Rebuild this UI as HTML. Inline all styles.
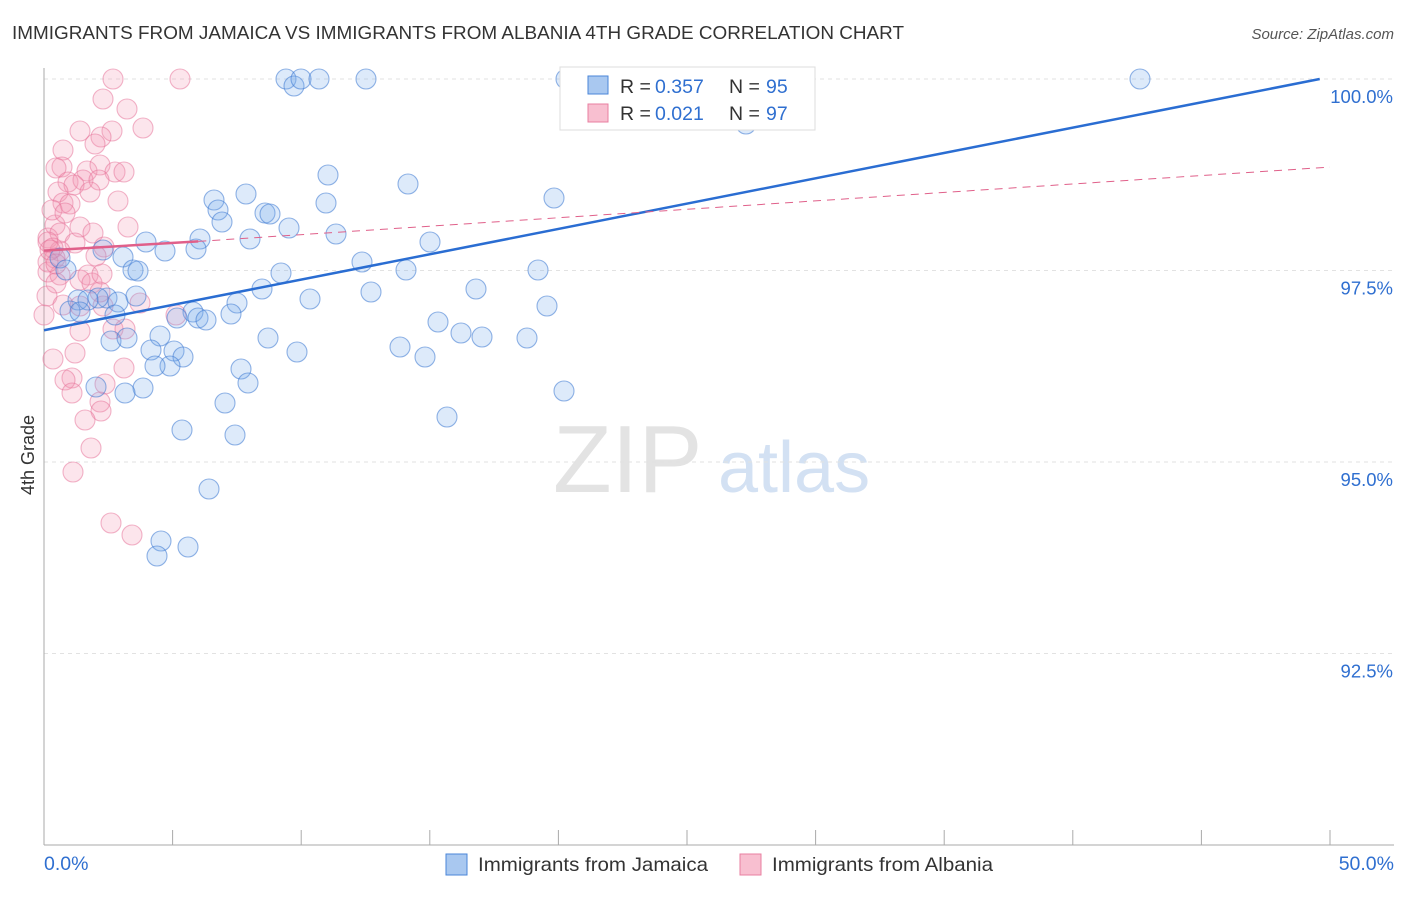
<!DOCTYPE html>
<html><head><meta charset="utf-8"><style>
body{margin:0;background:#fff;font-family:"Liberation Sans",sans-serif}
svg text{font-family:"Liberation Sans",sans-serif}
</style></head><body>
<svg id="c" width="1406" height="892">
<text x="12" y="39" font-size="18" fill="#333" textLength="892" lengthAdjust="spacingAndGlyphs">IMMIGRANTS FROM JAMAICA VS IMMIGRANTS FROM ALBANIA 4TH GRADE CORRELATION CHART</text>
<text x="1394" y="39" font-size="15" fill="#555" font-style="italic" text-anchor="end">Source: ZipAtlas.com</text>
<text x="34" y="455" font-size="18" fill="#333" text-anchor="middle" transform="rotate(-90 34 455)">4th Grade</text>
<text x="553" y="492" font-size="96" fill="#e3e3e3" font-family="Liberation Serif">ZIP</text>
<text x="718" y="492" font-size="72" fill="#d3e1f3">atlas</text>
<g id="grid"></g><g id="pts"></g><g id="lines"></g>
<g>
<rect x="560" y="67" width="255" height="63" fill="#fff" stroke="#ddd"/>
<rect x="588" y="76" width="20" height="18" fill="#a9c8f0" stroke="#4a86d8"/>
<text y="93" font-size="19.5" fill="#333"><tspan x="620">R =</tspan><tspan x="655" fill="#2f6fd0">0.357</tspan><tspan x="729">N =</tspan><tspan x="766" fill="#2f6fd0">95</tspan></text>
<rect x="588" y="104" width="20" height="18" fill="#f8bfd0" stroke="#e87fa0"/>
<text y="120" font-size="19.5" fill="#333"><tspan x="620">R =</tspan><tspan x="655" fill="#2f6fd0">0.021</tspan><tspan x="729">N =</tspan><tspan x="766" fill="#2f6fd0">97</tspan></text>
</g>
<g>
<rect x="446" y="854" width="21" height="21" fill="#a9c8f0" stroke="#4a86d8"/>
<text x="478" y="871" font-size="19.5" fill="#333" textLength="230" lengthAdjust="spacingAndGlyphs">Immigrants from Jamaica</text>
<rect x="740" y="854" width="21" height="21" fill="#f8bfd0" stroke="#e87fa0"/>
<text x="772" y="871" font-size="19.5" fill="#333" textLength="221" lengthAdjust="spacingAndGlyphs">Immigrants from Albania</text>
</g>
<text x="44" y="870" font-size="19.5" fill="#2f6fd0">0.0%</text>
<text x="1394" y="870" font-size="19.5" fill="#2f6fd0" text-anchor="end">50.0%</text>
</svg>
<script>
const yTicks=[100,97.5,95,92.5];
const yTickLabels=["100.0%","97.5%","95.0%","92.5%"];
const xTicks=[0,5,10,15,20,25,30,35,40,45,50];
const bluePx=[[286,79],[294,86],[301,79],[319,79],[366,79],[566,79],[707,79],[1140,79],[746,124],[328,175],[408,184],[246,194],[214,200],[218,210],[222,222],[265,213],[270,214],[289,228],[326,203],[336,234],[554,198],[250,239],[146,242],[165,251],[200,239],[196,249],[103,250],[123,257],[60,258],[66,270],[133,270],[138,271],[281,273],[362,262],[430,242],[406,270],[538,270],[476,289],[371,292],[310,299],[262,289],[237,303],[231,314],[107,298],[118,302],[78,300],[98,298],[88,300],[136,296],[70,311],[80,312],[115,315],[193,312],[198,318],[206,320],[177,318],[547,306],[438,322],[461,333],[482,337],[527,338],[268,338],[160,336],[111,341],[127,338],[400,347],[425,357],[297,352],[151,350],[174,351],[183,357],[170,366],[155,366],[241,369],[248,383],[143,388],[96,387],[125,393],[564,391],[225,403],[447,417],[182,430],[235,435],[209,489],[161,541],[188,547],[157,556]];
const pinkPx=[[113,79],[180,79],[103,99],[127,109],[143,128],[112,131],[80,131],[101,137],[95,144],[63,150],[62,167],[87,171],[100,165],[115,172],[124,172],[56,168],[68,182],[83,180],[99,180],[74,185],[90,192],[58,192],[118,201],[63,203],[70,204],[55,225],[48,238],[60,233],[80,227],[52,210],[65,213],[93,233],[128,227],[104,247],[96,256],[75,243],[60,251],[48,242],[53,248],[55,258],[48,272],[60,275],[88,275],[80,280],[92,283],[102,274],[56,283],[47,296],[63,305],[103,306],[80,306],[140,303],[176,315],[113,329],[125,329],[80,331],[53,359],[75,353],[124,368],[105,384],[72,378],[65,380],[72,393],[100,402],[101,411],[85,420],[91,448],[73,472],[111,523],[132,535],[100,292],[48,262],[50,250],[56,264],[44,315]];
const X0=44,X1=1330,Y100=79,PX_PER=191.5/2.5;
const xs=v=>X0+v/50*(X1-X0), ys=v=>Y100+(100-v)*PX_PER;
const toData=p=>[(p[0]-X0)/(X1-X0)*50,100-(p[1]-Y100)/PX_PER];
const jamaicaX=bluePx.map(p=>toData(p)[0]),jamaicaY=bluePx.map(p=>toData(p)[1]);
const albaniaX=pinkPx.map(p=>toData(p)[0]),albaniaY=pinkPx.map(p=>toData(p)[1]);
const blueTrend=[[0,96.72],[49.6,100]];
const pinkTrend=[[0,97.76],[6,97.88],[50,98.85]];
const NS="http://www.w3.org/2000/svg";
function mk(t,a,parent){const e=document.createElementNS(NS,t);for(const k in a)e.setAttribute(k,a[k]);parent.appendChild(e);return e;}
const g=document.getElementById('grid');
yTicks.forEach((v,i)=>{
 const l=mk('line',{x1:44,x2:1394,y1:ys(v),y2:ys(v),stroke:'#e2e2e2','stroke-dasharray':'4,4'},g);
 
 
 const t=mk('text',{x:1393,y:ys(v)+24,'font-size':18.5,fill:'#2f6fd0','text-anchor':'end'},g);
 t.textContent=yTickLabels[i];
 
 
});
const ax=mk('line',{x1:44,x2:44,y1:68,y2:845,stroke:'#aaa'},g);


const bx=mk('line',{x1:44,x2:1394,y1:845,y2:845,stroke:'#aaa'},g);


xTicks.forEach(v=>{const t=mk('line',{x1:xs(v),x2:xs(v),y1:830,y2:845,stroke:'#aaa'},g);
 
 });
const P=document.getElementById('pts');
albaniaX.forEach((x,i)=>{const c=mk('circle',{cx:xs(x),cy:ys(albaniaY[i]),r:10,fill:'rgba(245,150,180,0.25)',stroke:'rgba(230,110,150,0.5)','stroke-width':1.1},P);
 
 });
jamaicaX.forEach((x,i)=>{const c=mk('circle',{cx:xs(x),cy:ys(jamaicaY[i]),r:10,fill:'rgba(120,170,235,0.25)',stroke:'rgba(60,120,210,0.55)','stroke-width':1.1},P);
 
 });
const L=document.getElementById('lines');
const bl=mk('line',{x1:xs(blueTrend[0][0]),y1:ys(blueTrend[0][1]),x2:xs(blueTrend[1][0]),y2:ys(blueTrend[1][1]),stroke:'#2a6dd2','stroke-width':2.5},L);


const pl=mk('line',{x1:xs(pinkTrend[0][0]),y1:ys(pinkTrend[0][1]),x2:xs(pinkTrend[1][0]),y2:ys(pinkTrend[1][1]),stroke:'#e0608a','stroke-width':2.5},L);


const pd=mk('line',{x1:xs(pinkTrend[1][0]),y1:ys(pinkTrend[1][1]),x2:xs(pinkTrend[2][0]),y2:ys(pinkTrend[2][1]),stroke:'#e0608a','stroke-width':1,'stroke-dasharray':'8,6'},L);


</script>
</body></html>
